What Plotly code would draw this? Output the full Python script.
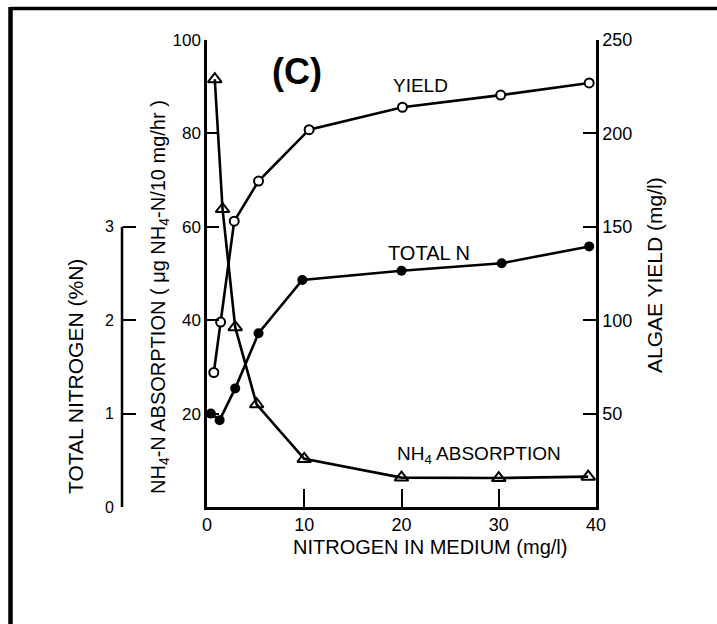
import plotly.graph_objects as go

# Nitrogen in medium (mg/l) for each series
x_nh4 = [0.8, 1.6, 2.9, 5.1, 10, 20, 30, 39.2]
x_yield = [0.7, 1.4, 2.8, 5.3, 10.5, 20.1, 30.2, 39.3]
x_totn = [0.4, 1.3, 2.9, 5.3, 9.8, 20, 30.3, 39.3]

# NH4-N absorption (ug NH4-N / 10 mg / hr)
nh4_absorption = [91.6, 63.8, 38.5, 22.0, 10.3, 6.3, 6.2, 6.5]
# Algae yield (mg/l)
algae_yield = [72, 99, 153, 174.5, 202, 214, 220.5, 227]
# Total nitrogen (%N)
total_n = [1.0, 0.93, 1.27, 1.86, 2.43, 2.53, 2.61, 2.79]

x_ticks = [0, 10, 20, 30, 40]
nh4_ticks = [20, 40, 60, 80, 100]
yield_ticks = [50, 100, 150, 200, 250]
totn_ticks = [0, 1, 2, 3]

W, H = 717, 624
ML, MR, MT, MB = 40, 121, 40, 117
PW, PH = W - ML - MR, H - MT - MB


def fx(px):
    return (px - ML) / PW


def fy(py):
    return (H - MB - py) / PH


FONT = "Liberation Sans"
INK = "black"


def tfont(size):
    return dict(family=FONT, size=size, color=INK)


fig = go.Figure()

fig.add_trace(go.Scatter(
    x=x_nh4, y=nh4_absorption, mode="lines+markers", yaxis="y",
    line=dict(color=INK, width=2.6),
    marker=dict(symbol="triangle-up-open", size=12, color=INK, line=dict(width=2, color=INK)),
    cliponaxis=False, showlegend=False,
))
fig.add_trace(go.Scatter(
    x=x_yield, y=algae_yield, mode="lines+markers", yaxis="y2",
    line=dict(color=INK, width=2.6),
    marker=dict(symbol="circle", size=9, color="white", line=dict(width=2, color=INK)),
    cliponaxis=False, showlegend=False,
))
fig.add_trace(go.Scatter(
    x=x_totn, y=total_n, mode="lines+markers", yaxis="y3",
    line=dict(color=INK, width=2.6),
    marker=dict(symbol="circle", size=10, color=INK),
    cliponaxis=False, showlegend=False,
))

x0 = fx(207)
outer_pos = fx(122)

fig.update_layout(
    width=W, height=H,
    margin=dict(l=ML, r=MR, t=MT, b=MB),
    paper_bgcolor="white", plot_bgcolor="white",
    xaxis=dict(
        domain=[x0, 1], range=[0, 40], tickvals=x_ticks,
        ticks="inside", ticklen=18, tickwidth=2, tickcolor=INK,
        showline=True, linewidth=2.5, linecolor=INK, mirror=False,
        showgrid=False, zeroline=False, tickfont=tfont(18), ticklabelstandoff=0,
    ),
    yaxis=dict(
        range=[0, 100], tickvals=nh4_ticks, anchor="x",
        ticks="inside", ticklen=12, tickwidth=2, tickcolor=INK,
        showline=True, linewidth=2.5, linecolor=INK,
        showgrid=False, zeroline=False, tickfont=tfont(17),
    ),
    yaxis2=dict(
        range=[0, 250], tickvals=yield_ticks, overlaying="y", side="right", anchor="x",
        ticks="inside", ticklen=13, tickwidth=2, tickcolor=INK,
        showline=True, linewidth=2.5, linecolor=INK,
        showgrid=False, zeroline=False, tickfont=tfont(18),
    ),
    yaxis3=dict(
        range=[0, 5], tickvals=totn_ticks, overlaying="y", side="left",
        anchor="free", position=outer_pos,
        ticks="inside", ticklen=13, tickwidth=2, tickcolor=INK,
        showline=False, showgrid=False, zeroline=False, tickfont=tfont(16),
        ticklabelstandoff=8,
    ),
)

# Outer %N axis line only spans its labelled range
fig.add_shape(type="line", xref="paper", yref="y3", x0=outer_pos, x1=outer_pos,
              y0=totn_ticks[0], y1=totn_ticks[-1], line=dict(color=INK, width=2.5))

# Frame around the figure panel
fig.add_shape(type="line", xref="paper", yref="paper", x0=fx(10.5), x1=fx(730),
              y0=fy(8.5), y1=fy(8.5), line=dict(color=INK, width=3.5))
fig.add_shape(type="line", xref="paper", yref="paper", x0=fx(10.5), x1=fx(10.5),
              y0=fy(7), y1=fy(640), line=dict(color=INK, width=4.5))


def note(text, px, py, size=16, angle=0, bold=False):
    fig.add_annotation(
        text=f"<b>{text}</b>" if bold else text,
        xref="paper", yref="paper", x=fx(px), y=fy(py),
        xanchor="center", yanchor="middle", showarrow=False, textangle=angle,
        font=tfont(size),
    )


note("(C)", 297, 72, size=36, bold=True)
note("YIELD", 420, 86, size=19)
note("TOTAL N", 429, 253, size=20)
note("NH<sub>4</sub> ABSORPTION", 479, 455, size=19)

note("TOTAL NITROGEN (%N)", 75, 377, size=21, angle=-90)
note("NH<sub>4</sub>-N ABSORPTION ( μg NH<sub>4</sub>-N/10 mg/hr )", 160, 297, size=20, angle=-90)
note("ALGAE YIELD (mg/l)", 654, 275, size=21, angle=-90)
note("NITROGEN IN MEDIUM (mg/l)", 430, 547, size=20)

fig.write_html("out.html")
